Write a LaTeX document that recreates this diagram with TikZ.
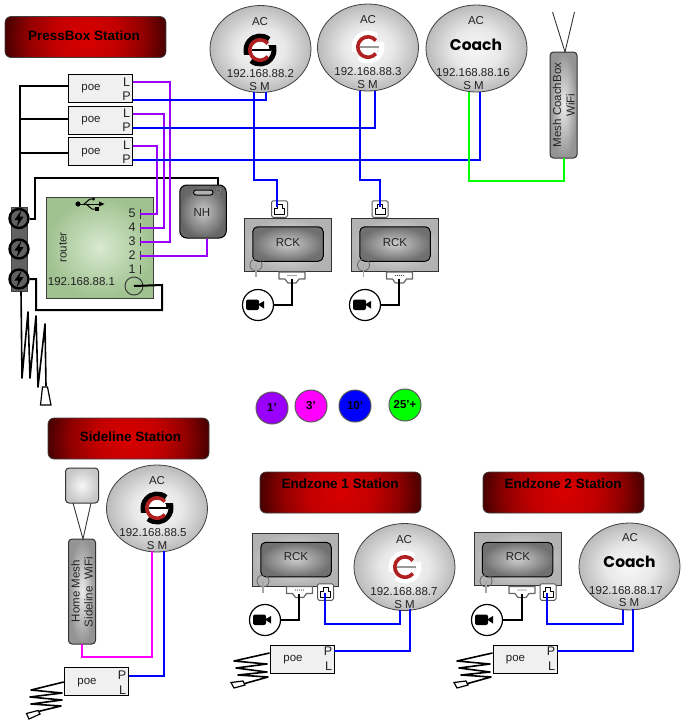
\documentclass[tikz,border=0pt]{standalone}
\usepackage{fontspec}
\setmainfont{Liberation Sans}
\newfontfamily\coachfont{Poppins}
\usetikzlibrary{shapes.geometric,calc}
\definecolor{wpurple}{HTML}{9900FF}
\definecolor{wmagenta}{HTML}{FF00FF}
\definecolor{wblue}{HTML}{0000FF}
\definecolor{wgreen}{HTML}{00FF00}
\definecolor{ink}{HTML}{222222}
\definecolor{logored}{HTML}{B02020}
\definecolor{rtin}{HTML}{D8E9D0}
\definecolor{rtout}{HTML}{A0C290}
\pgfdeclareradialshading{acshade}{\pgfpoint{0bp}{0bp}}{color(0bp)=(black!3); color(12bp)=(black!9); color(25bp)=(black!27); color(50bp)=(black!27)}
\pgfdeclareradialshading{hdrshade}{\pgfpoint{0bp}{0bp}}{rgb(0bp)=(.85,0,0); rgb(10bp)=(.76,0,0); rgb(18bp)=(.56,0,0); rgb(25bp)=(.27,0,0); rgb(50bp)=(.22,0,0)}
\tikzset{
  txt/.style={inner sep=0pt,text=ink,font=\fontsize{11.5}{12}\selectfont},
  biglab/.style={inner sep=0pt,text=ink,font=\fontsize{12.5}{13}\selectfont},
  rottxt/.style={txt,rotate=90,font=\fontsize{11.5}{12}\selectfont},
  hdr/.style={draw=black!75,line width=.7pt,rounded corners=6pt,minimum width=161pt,minimum height=41pt,inner sep=0pt,
    path picture={\shade[shading=hdrshade] (path picture bounding box.center) circle (82pt);}},
  hdrtxt/.style={inner sep=0pt,text=black,font=\bfseries\fontsize{13.5}{14}\selectfont},
  acell/.style={draw=black!75,line width=.8pt,ellipse,inner sep=0pt,minimum width=101pt,minimum height=87pt,shading=acshade},
  poebx/.style={draw=black,line width=1pt,fill=black!6,inner sep=0pt,minimum width=64pt,minimum height=28pt},
  rckouter/.style={draw=black!80,line width=1pt,inner color=black!8,outer color=black!30,inner sep=0pt,minimum width=86.5pt,minimum height=53pt},
  rckinner/.style={draw=black,line width=1pt,rounded corners=5pt,inner color=black!20,outer color=black!56,inner sep=0pt,minimum width=70.5pt,minimum height=34.5pt},
  meshbx/.style={draw=black!80,line width=1pt,rounded corners=3.5pt,inner color=black!8,outer color=black!42,inner sep=0pt},
  blk/.style={draw=black,line width=2pt,line join=miter},
  wire/.style={line width=2.4pt,line join=miter},
  coil/.style={draw=black,line width=1.6pt,line join=round},
  legend/.style={circle,draw=black!65,line width=1pt,minimum size=32pt,inner sep=0pt,text=black,font=\bfseries\fontsize{11.5}{12}\selectfont},
  campt/.style={circle,draw=black,line width=1.2pt,fill=white,minimum size=31pt,inner sep=0pt},
  rjbox/.style={draw=black!65,line width=1pt,rounded corners=1.5pt,fill=white,minimum width=16pt,minimum height=16.5pt,inner sep=0pt},
  surge/.style={circle,draw=black,line width=2.4pt,minimum size=19pt,inner sep=0pt},
}
% logo: #1 centre, #2 outer colour, #3 bar colour
\newcommand\gologo[3]{%
  \begin{scope}[shift={#1},y=1pt]
    \draw[line width=5pt,#2] (50:14) arc[start angle=50,end angle=190,radius=14] -- (-8,-2.4);
    \draw[line width=5pt,#2] (230:14) arc[start angle=230,end angle=370,radius=14] -- (8,2.4);
    \fill[white] (0,0) circle (9.5pt);
    \draw[line width=3.6pt,logored] (40:10.2) arc[start angle=40,end angle=320,radius=10.2];
    \draw[line width=2.6pt,#3] (-8,0) -- (11,0);
  \end{scope}}
\newcommand\boltmark[1]{\fill[black] ($#1+(2.5,-8.5)$) -- ($#1+(-4.5,1.5)$) -- ($#1+(-.5,1.5)$) -- ($#1+(-2.5,8.5)$) -- ($#1+(4.5,-2)$) -- ($#1+(.5,-2)$) -- cycle;}
\newcommand\rjicon[1]{\draw[black,line width=.9pt,line join=round] ($#1+(-5,5)$) -- ($#1+(-5,-1)$) -- ($#1+(-2.5,-1)$) -- ($#1+(-2.5,-4.5)$) -- ($#1+(2.5,-4.5)$) -- ($#1+(2.5,-1)$) -- ($#1+(5,-1)$) -- ($#1+(5,5)$) -- cycle;}
\newcommand\camport[1]{\draw[black!60,line width=1.2pt,fill=white,line join=round] ($#1+(-13,-5)$) -- ($#1+(13,-5)$) -- ($#1+(13,2)$) -- ($#1+(7,2)$) -- ($#1+(4,6)$) -- ($#1+(-4,6)$) -- ($#1+(-7,2)$) -- ($#1+(-13,2)$) -- cycle;
  \foreach \d in {-4,-2,0,2,4}{\fill[black!70] ($#1+(\d,-1.5)$) circle (.7pt);}}
\newcommand\camicon[1]{\fill[black,rounded corners=2pt] ($#1+(-10,-5.5)$) rectangle ($#1+(3,5)$);
  \fill[black] ($#1+(2,-.5)$) -- ($#1+(8,-4)$) -- ($#1+(8,3.5)$) -- cycle;}
\newcommand\ledmark[1]{\draw[black!60,line width=.8pt] #1 circle (6pt);\draw[black!35,line width=1.2pt] #1 -- ++(0,12);}
\begin{document}
\begin{tikzpicture}[x=1pt,y=-1pt]
\useasboundingbox (0,0) rectangle (688,721);
% ---- headers
\node[hdr] (hpress) at (85.5,37) {};
\node[hdrtxt] (tpress) at (84,36) {PressBox Station};
\node[hdr] (hside) at (128.5,438.5) {};
\node[hdrtxt] (tside) at (130.5,437) {Sideline Station};
\node[hdr] (hend1) at (340.5,492.5) {};
\node[hdrtxt] (tend1) at (340,484) {Endzone 1 Station};
\node[hdr] (hend2) at (563.5,492.5) {};
\node[hdrtxt] (tend2) at (563,484) {Endzone 2 Station};
% ---- AC units
\node[acell] (ac1) at (260.5,49) {};
\node[acell] (ac2) at (368,47.5) {};
\node[acell] (ac3) at (476.5,48.5) {};
\node[acell] (ac5) at (157,508.5) {};
\node[acell] (ac7) at (404.5,567) {};
\node[acell] (ac17) at (629.5,566.5) {};
\node[txt] (ac1a) at (260,22) {AC};
\node[txt] (ac2a) at (368,20) {AC};
\node[txt] (ac3a) at (476,21) {AC};
\node[txt] (ac5a) at (157,481) {AC};
\node[txt] (ac7a) at (404,540) {AC};
\node[txt] (ac17a) at (630,538) {AC};
\gologo{(260,50)}{black}{black}
\gologo{(368,47)}{white}{black!40}
\gologo{(157,508)}{black}{black}
\gologo{(405,567)}{white}{black!40}
\node[inner sep=0pt,font=\coachfont\bfseries\fontsize{15.5}{16}\selectfont] (ac3c) at (476,45) {Coach};
\node[inner sep=0pt,font=\coachfont\bfseries\fontsize{15.5}{16}\selectfont] (ac17c) at (629.5,562) {Coach};
\node[txt] (ac1i) at (260.5,74) {192.168.88.2};
\node[txt] (ac2i) at (368,72) {192.168.88.3};
\node[txt] (ac3i) at (473,73) {192.168.88.16};
\node[txt] (ac5i) at (153,532.5) {192.168.88.5};
\node[txt] (ac7i) at (404,592) {192.168.88.7};
\node[txt] (ac17i) at (626,590.5) {192.168.88.17};
\node[txt] (ac1s) at (259.5,86.5) {S M};
\node[txt] (ac2s) at (367.5,85) {S M};
\node[txt] (ac3s) at (473.5,85.5) {S M};
\node[txt] (ac5s) at (157,545.5) {S M};
\node[txt] (ac7s) at (404.5,604.5) {S M};
\node[txt] (ac17s) at (629,603) {S M};
\coordinate (ac1S) at (254,92);
\coordinate (ac1M) at (266,92);
\coordinate (ac2S) at (360,91);
\coordinate (ac2M) at (375,91);
\coordinate (ac3S) at (469,92);
\coordinate (ac3M) at (480,92);
\coordinate (ac5S) at (152,551);
\coordinate (ac5M) at (164,551);
\coordinate (ac7S) at (400,610);
\coordinate (ac7M) at (410,609);
\coordinate (ac17S) at (623,610);
\coordinate (ac17M) at (633,609);
% ---- press box poe
\node[poebx] (poe1) at (100.5,88.5) {};
\node[poebx] (poe2) at (100.5,120) {};
\node[poebx] (poe3) at (100.5,151.5) {};
\node[txt] (poe1t) at (91,89) {poe};
\node[txt] (poe2t) at (91,120.5) {poe};
\node[txt] (poe3t) at (91,152.5) {poe};
\node[biglab] (poe1l) at (126.5,82) {L};
\node[biglab] (poe1p) at (126.5,96) {P};
\node[biglab] (poe2l) at (126.5,113.5) {L};
\node[biglab] (poe2p) at (126.5,127) {P};
\node[biglab] (poe3l) at (126.5,145.5) {L};
\node[biglab] (poe3p) at (126.5,159.5) {P};
\coordinate (poe1L) at (132.5,82);
\coordinate (poe1P) at (132.5,100);
\coordinate (poe2L) at (132.5,114);
\coordinate (poe2P) at (132.5,128);
\coordinate (poe3L) at (132.5,146);
\coordinate (poe3P) at (132.5,160);
% ---- router
\node[draw=black!75,line width=1pt,inner color=rtin,outer color=rtout,minimum width=107pt,minimum height=101pt,inner sep=0pt] (router) at (100,247.5) {};
\node[rottxt] (routert) at (63,247.5) {router};
\node[txt] (routeri) at (81.5,282) {192.168.88.1};
\node[biglab] (rp5) at (132,213.5) {5};
\node[biglab] (rp4) at (132,227.5) {4};
\node[biglab] (rp3) at (132,241) {3};
\node[biglab] (rp2) at (132,255) {2};
\node[biglab] (rp1) at (132,269) {1};
\foreach \a/\b in {209/219,223/233,237/246,251/260,265/274}{\draw[black!80,line width=1pt] (140,\a) -- (140,\b);}
\node[circle,draw=black!80,line width=.9pt,minimum size=18pt,inner sep=0pt] (wan) at (134,286) {};
\coordinate (r5) at (140,214);
\coordinate (r4) at (140,228);
\coordinate (r3) at (140,242);
\coordinate (r2) at (140,256);
% usb icon
\draw[black,line width=1pt] (78,204) -- (100,204);
\fill[black] (78,204) circle (2.6pt);
\fill[black] (99,201.5) -- (104.5,204) -- (99,206.5) -- cycle;
\draw[black,line width=1pt] (84,204) -- (90,199) -- (93,199);
\fill[black] (93.5,199) circle (1.6pt);
\draw[black,line width=1pt] (86,204) -- (92,209) -- (96,209);
\fill[black] (95,207.2) rectangle (98.5,210.8);
% ---- NH
\node[draw=black,line width=1pt,rounded corners=7pt,inner color=black!22,outer color=black!60,minimum width=46.5pt,minimum height=53pt,inner sep=0pt] (nh) at (203,211.5) {};
\node[txt] (nht) at (202,213) {NH};
\draw[black,line width=1pt,rounded corners=2.5pt,fill=black!30] (193.5,190) rectangle (213,195);
\draw[black!60,line width=.6pt,rounded corners=1pt] (184,190.5) rectangle (190.5,196);
\draw[black!50,line width=.6pt] (218.5,190.5) circle (2.5pt);
\draw[black!50,line width=.7pt] (218.5,193) -- (218.5,197);
% ---- surge strip
\node[fill=black!62,draw=black!75,line width=.8pt,minimum width=16pt,minimum height=84pt,inner sep=0pt] (strip) at (19,249) {};
\node[surge] (s1) at (19,218.5) {};
\node[surge] (s2) at (19,249) {};
\node[surge] (s3) at (19,279) {};
\boltmark{(19,218.5)}
\boltmark{(19,249)}
\boltmark{(19,279)}
% ---- mesh coachbox
\node[meshbx,minimum width=27pt,minimum height=106pt] (mesh) at (563.5,105) {};
\node[rottxt] (mesht1) at (557,105) {Mesh CoachBox};
\node[rottxt] (mesht2) at (570.5,105) {WiFi};
\coordinate (ant1) at (552.5,12);
\coordinate (ant2) at (574.5,12);
\coordinate (meshtop) at (565,52);
\coordinate (meshbot) at (564,158);
\draw[black!80,line width=.9pt] (ant1) -- (meshtop) -- (ant2);
% ---- RCK press box
\node[rckouter] (rck1) at (287.75,244.5) {};
\node[rckinner] (rck1i) at (288,244) {};
\node[txt] (rck1t) at (288,243) {RCK};
\ledmark{(256,265)}
\node[rckouter] (rck2) at (395,244.5) {};
\node[rckinner] (rck2i) at (395,244) {};
\node[txt] (rck2t) at (395,243) {RCK};
\ledmark{(363.5,265)}
\node[rjbox] (rj1) at (279.5,209) {};
\rjicon{(279.5,209)}
\node[rjbox] (rj2) at (380,209) {};
\rjicon{(380,209)}
\camport{(292,277)}
\camport{(399.5,277)}
\coordinate (cp1) at (292,279);
\coordinate (cp2) at (399,279);
\coordinate (rjin1) at (277,207);
\coordinate (rjin2) at (380,207);
\node[campt] (cam1) at (258,305) {};
\node[campt] (cam2) at (365,305) {};
\camicon{(256,305)}
\camicon{(363,305)}
% ---- legend
\node[legend,fill=wpurple] (l1) at (272,408) {1'};
\node[legend,fill=wmagenta] (l3) at (311,406) {3'};
\node[legend,fill=wblue] (l10) at (355,406) {10'};
\node[legend,fill=wgreen] (l25) at (405,405) {25'+};
% ---- sideline
\node[meshbx,minimum width=33pt,minimum height=35pt,inner color=black!3,outer color=black!22] (sqant) at (82,485.5) {};
\node[meshbx,minimum width=27pt,minimum height=105pt] (home) at (82,591.5) {};
\node[rottxt] (homet1) at (75.5,591) {Home Mesh};
\node[rottxt] (homet2) at (88.5,592) {Sideline\ \ WiFi};
\coordinate (sq1) at (73,503);
\coordinate (sq2) at (91,503);
\coordinate (hometop) at (83,539);
\coordinate (homebot) at (82,644);
\draw[black!80,line width=.9pt] (sq1) -- (hometop) -- (sq2);
\node[poebx] (poe5) at (96.25,681) {};
\node[txt] (poe5t) at (87,683) {poe};
\node[biglab] (poe5p) at (122,675) {P};
\node[biglab] (poe5l) at (122.5,690) {L};
\coordinate (poe5P) at (128.5,676);
% ---- endzone 1
\node[rckouter] (rck3) at (295.25,559.5) {};
\node[rckinner] (rck3i) at (296,559.5) {};
\node[txt] (rck3t) at (296,557) {RCK};
\ledmark{(263,581)}
\camport{(299.5,591.5)}
\coordinate (cp3) at (299,594);
\node[rjbox] (rj3) at (325.5,592) {};
\rjicon{(325.5,592)}
\coordinate (rjin3) at (325,593);
\node[campt] (cam3) at (265,620) {};
\camicon{(263,620)}
\node[poebx] (poe7) at (302,659) {};
\node[txt] (poe7t) at (293,659.5) {poe};
\node[biglab] (poe7p) at (328,651.5) {P};
\node[biglab] (poe7l) at (328.5,666) {L};
\coordinate (poe7P) at (334,651);
% ---- endzone 2
\node[rckouter] (rck4) at (518,559) {};
\node[rckinner] (rck4i) at (517.5,559.5) {};
\node[txt] (rck4t) at (518,557) {RCK};
\ledmark{(486,581)}
\camport{(522,591.5)}
\coordinate (cp4) at (522,594);
\node[rjbox] (rj4) at (548,592) {};
\rjicon{(548,592)}
\coordinate (rjin4) at (547,593);
\node[campt] (cam4) at (487,620) {};
\camicon{(485,620)}
\node[poebx] (poe17) at (525,659) {};
\node[txt] (poe17t) at (515.5,659.5) {poe};
\node[biglab] (poe17p) at (551,651.5) {P};
\node[biglab] (poe17l) at (551.5,666) {L};
\coordinate (poe17P) at (557,651);
% ---- black wiring
\coordinate (trunk) at (20,86);
\draw[blk] (poe1.west |- trunk) -- (trunk) -- (strip.north -| trunk);
\draw[blk] (poe2.west |- 0,119) -- (20,119);
\draw[blk] (poe3.west |- 0,153) -- (20,153);
\draw[blk] (s1.east) -| (35,178) -| (nh.north -| 218,0);
\draw[blk] (s3.east) -| (36,310) -| (162,285) -- (wan.center);
\draw[blk] (cp1) |- (cam1.east);
\draw[blk] (cp2) |- (cam2.east);
\draw[blk] (cp3) |- (cam3.east);
\draw[blk] (cp4) |- (cam4.east);
% ---- purple wiring
\draw[wire,wpurple] (poe1L) -| (170,242) -- (r3);
\draw[wire,wpurple] (poe2L) -| (164,228) -- (r4);
\draw[wire,wpurple] (poe3L) -| (157,214) -- (r5);
\draw[wire,wpurple] (nh.south -| 207,0) |- (r2);
% ---- blue wiring
\draw[wire,wblue] (poe1P) -| (ac1M);
\draw[wire,wblue] (ac1S) |- (277,180) -- (rjin1);
\draw[wire,wblue] (poe2P) -| (ac2M);
\draw[wire,wblue] (ac2S) |- (380,180) -- (rjin2);
\draw[wire,wblue] (poe3P) -| (ac3M);
\draw[wire,wgreen] (ac3S) |- (564,181) -- (meshbot);
\draw[wire,wmagenta] (ac5S) |- (82,657) -- (homebot);
\draw[wire,wblue] (ac5M) |- (poe5P);
\draw[wire,wblue] (rjin3) |- (ac7S |- 0,624) -- (ac7S);
\draw[wire,wblue] (ac7M) |- (poe7P);
\draw[wire,wblue] (rjin4) |- (ac17S |- 0,624) -- (ac17S);
\draw[wire,wblue] (ac17M) |- (poe17P);
% ---- antenna coils
\draw[coil] (strip.south -| 21,0) -- (22,378) -- (28,312) -- (30,378) -- (36,316) -- (38,387) -- (45,324) -- (46,386);
\draw[black,line width=1.2pt,fill=white] (42.5,387) -- (47.5,387) -- (51,405) -- (40.5,405) -- cycle;
\draw[coil] (poe5.west |- 0,682) -- (31,690) -- (62,693) -- (30,697) -- (62,700) -- (31,704) -- (61,706) -- (36,712);
\draw[black,line width=1.2pt,fill=white] (38,710.5) -- (40,714) -- (29,719) -- (26.5,713.5) -- cycle;
\draw[coil] (poe7.west |- 0,653) -- (234,661) -- (267,664) -- (236,668) -- (267,672) -- (238,675) -- (268,677) -- (243,684);
\draw[black,line width=1.2pt,fill=white] (243,681) -- (245,685) -- (234,688) -- (231,682.5) -- cycle;
\draw[coil] (poe17.west |- 0,653) -- (457,661) -- (490,664) -- (459,668) -- (490,672) -- (461,675) -- (491,677) -- (466,684);
\draw[black,line width=1.2pt,fill=white] (466,681) -- (468,685) -- (457,688) -- (454,682.5) -- cycle;
\end{tikzpicture}
\end{document}
